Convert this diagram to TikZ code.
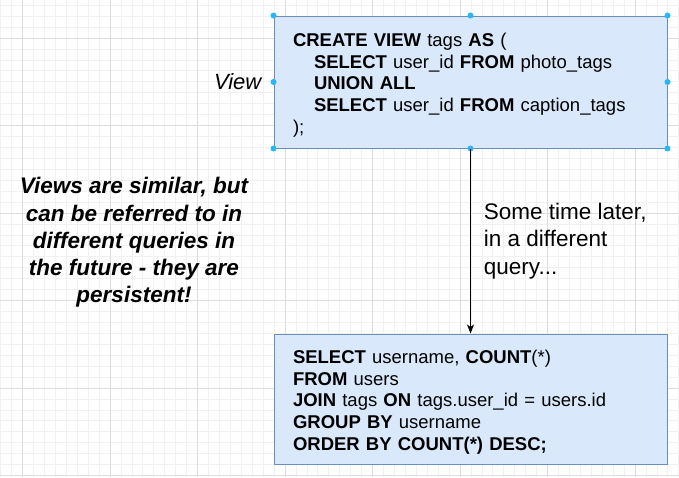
\documentclass[tikz,border=0pt]{standalone}
\usepackage{fontspec}
\setmainfont{Liberation Sans}
\usetikzlibrary{positioning,arrows.meta}
\definecolor{boxfill}{HTML}{DAE8FC}
\definecolor{boxline}{HTML}{6C8EBF}
\definecolor{handle}{HTML}{29B6F2}
\definecolor{gridminor}{HTML}{F1F1F1}
\definecolor{gridmajor}{HTML}{DDDDDD}
\newcommand{\kw}[1]{\textbf{#1}}
\newcommand{\topstrut}{\rule{0pt}{19.5pt}}
\tikzset{
  sqlbox/.style={draw=boxline, fill=boxfill, line width=1pt, minimum width=393pt, minimum height=132pt,
    text width=355pt, inner xsep=19pt, inner ysep=0pt, align=left, font=\fontsize{18.5}{21.6}\selectfont},
  notetext/.style={inner sep=0pt, font=\fontsize{22.5}{27.3}\selectfont},
}
\begin{document}
\begin{tikzpicture}[x=1pt, y=-1pt]
    % Background grid
    \useasboundingbox (0,0) rectangle (679,477);
    \fill[white] (0,0) rectangle (679,477);
    \foreach \k in {0,...,62} \draw[gridminor, line width=0.7pt] ({0.625+10.9375*\k},0) -- ++(0,477);
    \foreach \k in {0,...,43} \draw[gridminor, line width=0.7pt] (0,{5.19+10.9375*\k}) -- ++(679,0);
    \foreach \k in {0,...,7} \draw[gridmajor, line width=0.8pt] ({22.5+87.5*\k},0) -- ++(0,477);
    \foreach \k in {0,...,5} \draw[gridmajor, line width=0.8pt] (0,{38+87.5*\k}) -- ++(679,0);

    % View definition
    \node[sqlbox] (view) at (470.5,82) {\topstrut\kw{CREATE VIEW} tags \kw{AS} (\\
        \hspace*{21pt}\kw{SELECT} user\_id \kw{FROM} photo\_tags\\
        \hspace*{21pt}\kw{UNION ALL}\\
        \hspace*{21pt}\kw{SELECT} user\_id \kw{FROM} caption\_tags\\
        );};
    \node[left=12pt of view.west, inner sep=0pt, font=\itshape\fontsize{22}{26}\selectfont] (viewlabel) {View};

    % Selection handles
    \foreach \a in {north west, north, north east, east, south east, south, south west, west}
        \fill[handle] (view.\a) circle (3);

    % Later query
    \node[sqlbox, minimum height=130pt] (query) at (470.5,399) {\topstrut\kw{SELECT} username, \kw{COUNT}(*)\\
        \kw{FROM} users\\
        \kw{JOIN} tags \kw{ON} tags.user\_id = users.id\\
        \kw{GROUP BY} username\\
        \kw{ORDER BY COUNT(*) DESC;}};

    % Connector
    \draw[-{Stealth[length=9pt, width=7pt, inset=2.5pt]}, line width=0.9pt] (view) --
        node[notetext, anchor=west, xshift=13pt, align=left] (later) {Some time later,\\in a different\\query...} (query);

    % Side note
    \node[notetext, font=\fontsize{22.5}{27.3}\selectfont\bfseries\itshape, align=center] (note) at (134,242.5)
        {Views are similar, but\\can be referred to in\\different queries in\\the future - they are\\persistent!};
\end{tikzpicture}
\end{document}
